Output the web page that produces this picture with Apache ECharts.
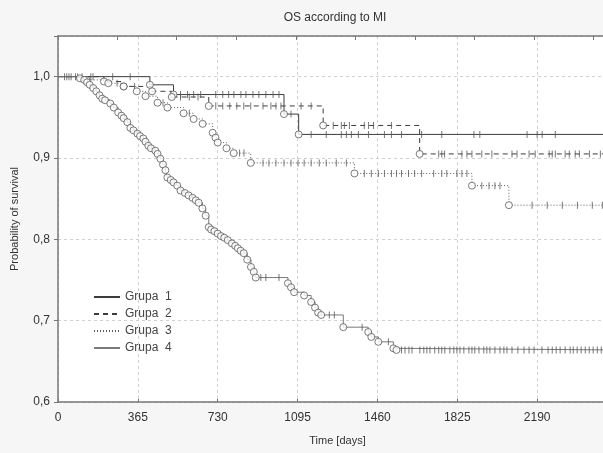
<!DOCTYPE html>
<html>
<head>
<meta charset="utf-8">
<script src="https://cdn.jsdelivr.net/npm/echarts@6/dist/echarts.min.js"></script>
<style>
  html, body { margin: 0; padding: 0; background: #f6f6f6; }
  #chart { width: 603px; height: 453px; }
</style>
</head>
<body>
<div id="chart"></div>
<script>
// Kaplan-Meier events [day, survival] per group
var names = ['Grupa  1', 'Grupa  2', 'Grupa  3', 'Grupa  4'];
var xTicks = [0, 365, 730, 1095, 1460, 1825, 2190];

var events1 = [[420, 0.990], [528, 0.978], [1033, 0.954], [1100, 0.929]];
var events2 = [[210, 0.994], [300, 0.988], [430, 0.982], [520, 0.975], [689, 0.964], [1212, 0.940], [1653, 0.905]];
var events3 = [[130, 0.996], [230, 0.992], [300, 0.988], [360, 0.982], [400, 0.976], [455, 0.968], [500, 0.962],
  [574, 0.955], [620, 0.948], [661, 0.942], [707, 0.931], [720, 0.925], [730, 0.919], [770, 0.912], [803, 0.906],
  [881, 0.894], [1355, 0.881], [1892, 0.866], [2061, 0.842]];
var events4 = [[100, 0.998], [120, 0.996], [133, 0.993], [145, 0.990], [161, 0.986], [175, 0.982], [190, 0.977],
  [202, 0.973], [215, 0.971], [239, 0.967], [255, 0.962], [275, 0.956], [290, 0.952], [300, 0.949], [317, 0.944],
  [331, 0.937], [345, 0.934], [363, 0.930], [375, 0.927], [390, 0.924], [400, 0.920], [413, 0.915], [425, 0.912],
  [445, 0.909], [455, 0.905], [468, 0.899], [480, 0.892], [491, 0.885], [500, 0.876], [515, 0.873], [528, 0.870],
  [545, 0.866], [560, 0.860], [580, 0.857], [597, 0.854], [615, 0.851], [630, 0.848], [643, 0.845], [660, 0.838],
  [675, 0.829], [689, 0.815], [700, 0.812], [715, 0.810], [730, 0.807], [745, 0.804], [760, 0.802], [776, 0.799],
  [795, 0.795], [810, 0.792], [822, 0.789], [835, 0.786], [849, 0.783], [865, 0.775], [882, 0.766], [895, 0.760],
  [904, 0.753], [1051, 0.746], [1065, 0.741], [1079, 0.735], [1125, 0.731], [1157, 0.723], [1175, 0.716],
  [1189, 0.710], [1203, 0.707], [1304, 0.692], [1418, 0.686], [1432, 0.680], [1464, 0.674], [1533, 0.666], [1547, 0.664]];

// censored observations (days)
var cens1 = [30, 60, 110, 160, 250, 330, 560, 592, 620, 652, 721, 753, 780, 804, 836, 859, 891, 918, 950, 983, 1010,
  1065, 1157, 1226, 1295, 1318, 1341, 1373, 1419, 1492, 1524, 1570, 1662, 1754, 1901, 1928, 2144, 2190, 2213, 2273];
var cens2 = [40, 80, 150, 350, 560, 600, 640, 721, 753, 785, 817, 849, 881, 937, 973, 996, 1019, 1111, 1157,
  1258, 1295, 1309, 1332, 1400, 1419, 1442, 1524, 1740, 1754, 1767, 1846, 1869, 1892, 1937, 1983, 2075, 2098,
  2153, 2181, 2245, 2259, 2273, 2318, 2337, 2364, 2383, 2429, 2479];
var cens3 = [50, 90, 270, 480, 600, 830, 850, 937, 964, 996, 1033, 1065, 1097, 1125, 1157, 1194, 1226, 1272, 1318,
  1400, 1432, 1464, 1492, 1524, 1547, 1570, 1602, 1630, 1662, 1717, 1754, 1777, 1823, 1846, 1869,
  1937, 1970, 1997, 2020, 2167, 2236, 2305, 2374, 2442, 2488];
var cens4 = [927, 950, 1010, 1240, 1263, 1390, 1510, 1570, 1586, 1604, 1618, 1654, 1672, 1686, 1700, 1722, 1740,
  1754, 1768, 1791, 1809, 1823, 1837, 1855, 1878, 1892, 1905, 1924, 1946, 1960, 1974, 1997, 2020, 2038, 2052,
  2075, 2102, 2130, 2153, 2176, 2212, 2240, 2259, 2277, 2295, 2318, 2341, 2355, 2373, 2391, 2410, 2428, 2446,
  2465, 2483, 2500];

var endDay = 2555;
var lineColors = ['#3c3c3c', '#3c3c3c', '#5a5a5a', '#7a7a7a'];
var lineTypes = ['solid', [5, 4], [1, 2], 'solid'];

function survAt(ev, d) {
  var s = 1;
  for (var i = 0; i < ev.length; i++) if (ev[i][0] <= d) s = ev[i][1];
  return s;
}

var allEvents = [events1, events2, events3, events4];
var allCens = [cens1, cens2, cens3, cens4];
var series = [];
allEvents.forEach(function (ev, g) {
  var steps = [[0, 1]].concat(ev).concat([[endDay, ev[ev.length - 1][1]]]);
  series.push({
    name: names[g], type: 'line', step: 'end', symbol: 'none', data: steps,
    lineStyle: { color: lineColors[g], width: 1, type: lineTypes[g] },
    itemStyle: { color: lineColors[g] }, z: 3
  });
  series.push({
    type: 'scatter', data: ev, symbol: 'circle', symbolSize: 7,
    itemStyle: { color: '#fff', borderColor: '#5a5a5a', borderWidth: 1 }, z: 4, silent: true
  });
  series.push({
    type: 'scatter', symbol: 'rect', symbolSize: [1, 7],
    data: allCens[g].map(function (d) { return [d, survAt(ev, d)]; }),
    itemStyle: { color: '#555' }, z: 4, silent: true
  });
});

var chart = echarts.init(document.getElementById('chart'));
chart.setOption({
  backgroundColor: '#f6f6f6',
  animation: false,
  textStyle: { fontFamily: 'Liberation Sans, Arial, sans-serif' },
  title: {
    text: 'OS according to MI', left: 330, top: 7, textAlign: 'center',
    textStyle: { fontSize: 12, fontWeight: 'normal', color: '#333' }
  },
  grid: {
    left: 58, top: 36, right: -14, bottom: 51, show: true, backgroundColor: '#fff', borderWidth: 0,
    outerBoundsMode: 'none'
  },
  legend: {
    data: names, orient: 'vertical', left: 88, top: 286, itemWidth: 26, itemHeight: 8, itemGap: 5,
    itemStyle: { color: 'transparent', borderColor: 'transparent', borderWidth: 0 },
    textStyle: { fontSize: 12, color: '#444' }
  },
  xAxis: [{
    type: 'value', min: 0, max: endDay, interval: 365,
    name: 'Time [days]', nameLocation: 'middle', nameGap: 33,
    nameTextStyle: { fontSize: 11, color: '#333' },
    axisLine: { lineStyle: { color: '#777', width: 1.5 } },
    axisTick: { inside: true, length: 3, lineStyle: { color: '#777' } },
    axisLabel: {
      fontSize: 12, color: '#333', margin: 10,
      formatter: function (v) { return xTicks.indexOf(v) >= 0 ? String(v) : ''; }
    },
    splitLine: { show: true, lineStyle: { color: '#d0d0d0', type: [3, 3] } }
  }, {
    // top border carries its own tick marks (every 272 days from day 64)
    type: 'value', position: 'top', min: -64 / 272, max: (endDay - 64) / 272, interval: 1,
    axisLine: { show: true, lineStyle: { color: '#777', width: 1.5 } },
    axisTick: { show: true, inside: true, length: 4, lineStyle: { color: '#777' } },
    axisLabel: { show: false }, splitLine: { show: false }
  }],
  yAxis: {
    type: 'value', min: 0.6, max: 1.05, interval: 0.1,
    name: 'Probability of survival', nameLocation: 'middle', nameGap: 38,
    nameTextStyle: { fontSize: 11, color: '#333' },
    axisLine: { show: true, lineStyle: { color: '#777', width: 1.5 } },
    axisTick: { show: true, length: 4, lineStyle: { color: '#777' } },
    axisLabel: {
      fontSize: 12, color: '#333', margin: 8,
      formatter: function (v) { return v > 1.01 ? '' : v.toFixed(1).replace('.', ','); }
    },
    splitLine: { show: true, lineStyle: { color: '#d0d0d0', type: [3, 3] } }
  },
  series: series
});
</script>
</body>
</html>
